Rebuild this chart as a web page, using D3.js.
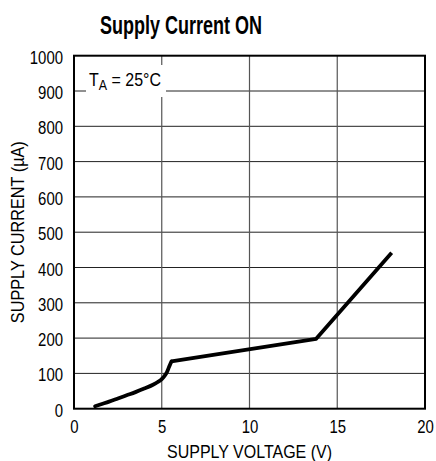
<!DOCTYPE html>
<html>
<head>
<meta charset="utf-8">
<script src="https://cdn.jsdelivr.net/npm/d3@7"></script>
<style>
  html, body { margin: 0; padding: 0; background: #fff; }
  svg { display: block; }
  text { font-family: "Liberation Sans Narrow", "Liberation Sans", Arial, sans-serif; fill: #000; }
</style>
</head>
<body>
<svg id="chart" width="436" height="461"></svg>
<script>
// ---- data ----
const voltage = [1.2, 1.5, 2, 2.5, 3, 3.5, 4, 4.5, 4.75, 5, 5.15, 5.3, 5.42, 5.55, 13.8, 18.1];
const current = [7, 12, 20, 29, 38, 47, 57, 68, 75, 84, 92, 104, 119, 134, 198, 442];
const xTicks = [0, 5, 10, 15, 20];
const yTicks = [0, 100, 200, 300, 400, 500, 600, 700, 800, 900, 1000];
const title = "Supply Current ON";
const xLabel = "SUPPLY VOLTAGE (V)";
const yLabel = "SUPPLY CURRENT (\u00B5A)";

const svg = d3.select("#chart");
const L = 74, R = 425, T = 55.7, B = 408.7;

const x = d3.scaleLinear().domain([0, 20]).range([L, R]);
const y = d3.scaleLinear().domain([0, 1000]).range([B, T]);

// title
svg.append("text").attr("x", 100).attr("y", 34)
  .attr("font-size", 25).attr("font-weight", "bold")
  .attr("textLength", 162).attr("lengthAdjust", "spacingAndGlyphs")
  .text(title);

// grid
const g = svg.append("g");
g.selectAll("line.h").data(yTicks.slice(1, -1)).enter().append("line")
  .attr("x1", L).attr("x2", R).attr("y1", d => y(d)).attr("y2", d => y(d))
  .attr("stroke", "#222").attr("stroke-width", 1);
g.selectAll("line.v").data(xTicks.slice(1, -1)).enter().append("line")
  .attr("y1", T).attr("y2", B).attr("x1", d => x(d)).attr("x2", d => x(d))
  .attr("stroke", "#555").attr("stroke-width", 1.2);

// annotation box (white background)
svg.append("rect").attr("x", 86).attr("y", 65).attr("width", 80).attr("height", 32).attr("fill", "#fff");
const ann = svg.append("text").attr("x", 89).attr("y", 86).attr("font-size", 18)
  .attr("textLength", 72).attr("lengthAdjust", "spacingAndGlyphs");
ann.append("tspan").text("T");
ann.append("tspan").attr("font-size", 14).attr("dy", 4).text("A");
ann.append("tspan").attr("dy", -4).text(" = 25\u00B0C");

// frame
svg.append("rect").attr("x", L).attr("y", T).attr("width", R - L).attr("height", B - T)
  .attr("fill", "none").attr("stroke", "#000").attr("stroke-width", 2);

// axes
const fmt = d3.format("d");
const xAxis = d3.axisBottom(x).tickValues(xTicks).tickFormat(fmt).tickSize(0).tickPadding(12);
const xg = svg.append("g").attr("transform", `translate(0,${B})`).call(xAxis);
xg.select(".domain").remove();
xg.selectAll("text").attr("font-size", 18).attr("fill", "#000")
  .attr("textLength", d => 8.3 * fmt(d).length).attr("lengthAdjust", "spacingAndGlyphs");

const yAxis = d3.axisLeft(y).tickValues(yTicks).tickFormat(fmt).tickSize(0).tickPadding(11);
const yg = svg.append("g").attr("transform", `translate(${L},0)`).call(yAxis);
yg.select(".domain").remove();
yg.selectAll("text").attr("font-size", 18).attr("fill", "#000").attr("dy", "0.42em")
  .attr("textLength", d => 8.3 * fmt(d).length).attr("lengthAdjust", "spacingAndGlyphs");
svg.selectAll("g").attr("font-family", null).attr("font-size", null);

// axis labels
svg.append("text").attr("x", (L + R) / 2).attr("y", 458).attr("text-anchor", "middle")
  .attr("font-size", 18).attr("textLength", 165).attr("lengthAdjust", "spacingAndGlyphs").text(xLabel);
svg.append("text").attr("transform", `translate(24,${(T + B) / 2}) rotate(-90)`)
  .attr("text-anchor", "middle").attr("font-size", 18)
  .attr("textLength", 182).attr("lengthAdjust", "spacingAndGlyphs").text(yLabel);

// curve: smooth lower portion, straight segments above the knee
const pts = voltage.map((v, i) => [v, current[i]]);
const kneeIdx = 13;
const lineSmooth = d3.line().x(d => x(d[0])).y(d => y(d[1])).curve(d3.curveMonotoneX);
const lineStraight = d3.line().x(d => x(d[0])).y(d => y(d[1])).curve(d3.curveLinear);
svg.append("path").datum(pts.slice(0, kneeIdx + 1))
  .attr("fill", "none").attr("stroke", "#000").attr("stroke-width", 3.8)
  .attr("stroke-linejoin", "round").attr("stroke-linecap", "round")
  .attr("d", lineSmooth);
svg.append("path").datum(pts.slice(kneeIdx))
  .attr("fill", "none").attr("stroke", "#000").attr("stroke-width", 3.8)
  .attr("stroke-linejoin", "round")
  .attr("d", lineStraight);
</script>
</body>
</html>
